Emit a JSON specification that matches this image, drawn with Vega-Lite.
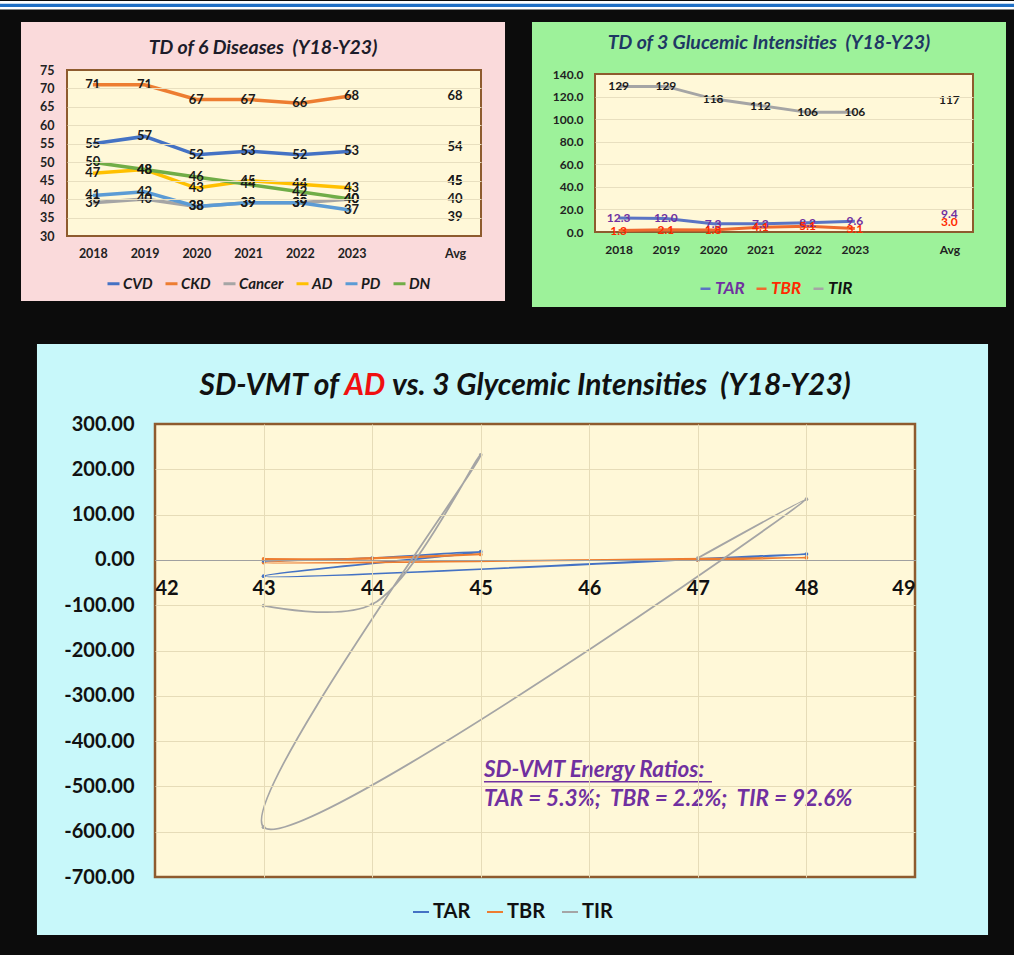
{
  "$schema": "https://vega.github.io/schema/vega-lite/v6.json",
  "background": "#0c0c0c",
  "padding": {"left": 0, "top": 0, "right": 0, "bottom": 21},
  "autosize": {"type": "pad"},
  "datasets": {
    "one": [{}],
    "td6": [
      {"disease": "CVD", "year": "2018", "td": 55}, {"disease": "CVD", "year": "2019", "td": 57}, {"disease": "CVD", "year": "2020", "td": 52},
      {"disease": "CVD", "year": "2021", "td": 53}, {"disease": "CVD", "year": "2022", "td": 52}, {"disease": "CVD", "year": "2023", "td": 53},
      {"disease": "CVD", "year": "Avg", "td": 54},
      {"disease": "CKD", "year": "2018", "td": 71}, {"disease": "CKD", "year": "2019", "td": 71}, {"disease": "CKD", "year": "2020", "td": 67},
      {"disease": "CKD", "year": "2021", "td": 67}, {"disease": "CKD", "year": "2022", "td": 66}, {"disease": "CKD", "year": "2023", "td": 68},
      {"disease": "CKD", "year": "Avg", "td": 68},
      {"disease": "Cancer", "year": "2018", "td": 39}, {"disease": "Cancer", "year": "2019", "td": 40}, {"disease": "Cancer", "year": "2020", "td": 38},
      {"disease": "Cancer", "year": "2021", "td": 39}, {"disease": "Cancer", "year": "2022", "td": 39}, {"disease": "Cancer", "year": "2023", "td": 40},
      {"disease": "Cancer", "year": "Avg", "td": 40},
      {"disease": "AD", "year": "2018", "td": 47}, {"disease": "AD", "year": "2019", "td": 48}, {"disease": "AD", "year": "2020", "td": 43},
      {"disease": "AD", "year": "2021", "td": 45}, {"disease": "AD", "year": "2022", "td": 44}, {"disease": "AD", "year": "2023", "td": 43},
      {"disease": "AD", "year": "Avg", "td": 45},
      {"disease": "PD", "year": "2018", "td": 41}, {"disease": "PD", "year": "2019", "td": 42}, {"disease": "PD", "year": "2020", "td": 38},
      {"disease": "PD", "year": "2021", "td": 39}, {"disease": "PD", "year": "2022", "td": 39}, {"disease": "PD", "year": "2023", "td": 37},
      {"disease": "PD", "year": "Avg", "td": 39},
      {"disease": "DN", "year": "2018", "td": 50}, {"disease": "DN", "year": "2019", "td": 48}, {"disease": "DN", "year": "2020", "td": 46},
      {"disease": "DN", "year": "2021", "td": 44}, {"disease": "DN", "year": "2022", "td": 42}, {"disease": "DN", "year": "2023", "td": 40},
      {"disease": "DN", "year": "Avg", "td": 45}
    ],
    "td3": [
      {"metric": "TAR", "year": "2018", "td": 12.3}, {"metric": "TAR", "year": "2019", "td": 12.0}, {"metric": "TAR", "year": "2020", "td": 7.3},
      {"metric": "TAR", "year": "2021", "td": 7.3}, {"metric": "TAR", "year": "2022", "td": 8.2}, {"metric": "TAR", "year": "2023", "td": 9.6},
      {"metric": "TAR", "year": "Avg", "td": 9.4},
      {"metric": "TBR", "year": "2018", "td": 1.3}, {"metric": "TBR", "year": "2019", "td": 2.1}, {"metric": "TBR", "year": "2020", "td": 1.8},
      {"metric": "TBR", "year": "2021", "td": 4.1}, {"metric": "TBR", "year": "2022", "td": 5.1}, {"metric": "TBR", "year": "2023", "td": 3.1},
      {"metric": "TBR", "year": "Avg", "td": 3.0},
      {"metric": "TIR", "year": "2018", "td": 129}, {"metric": "TIR", "year": "2019", "td": 129}, {"metric": "TIR", "year": "2020", "td": 118},
      {"metric": "TIR", "year": "2021", "td": 112}, {"metric": "TIR", "year": "2022", "td": 106}, {"metric": "TIR", "year": "2023", "td": 106},
      {"metric": "TIR", "year": "Avg", "td": 117}
    ],
    "sd": [
      {"metric": "TAR", "year": 2018, "ad": 47, "sdvmt": 0}, {"metric": "TAR", "year": 2019, "ad": 48, "sdvmt": 13},
      {"metric": "TAR", "year": 2020, "ad": 43, "sdvmt": -36}, {"metric": "TAR", "year": 2021, "ad": 45, "sdvmt": 18},
      {"metric": "TAR", "year": 2022, "ad": 44, "sdvmt": 4}, {"metric": "TAR", "year": 2023, "ad": 43, "sdvmt": -2},
      {"metric": "TBR", "year": 2018, "ad": 47, "sdvmt": 0}, {"metric": "TBR", "year": 2019, "ad": 48, "sdvmt": 5},
      {"metric": "TBR", "year": 2020, "ad": 43, "sdvmt": -6}, {"metric": "TBR", "year": 2021, "ad": 45, "sdvmt": 12},
      {"metric": "TBR", "year": 2022, "ad": 44, "sdvmt": 3}, {"metric": "TBR", "year": 2023, "ad": 43, "sdvmt": 2},
      {"metric": "TIR", "year": 2018, "ad": 47, "sdvmt": 4}, {"metric": "TIR", "year": 2019, "ad": 48, "sdvmt": 134},
      {"metric": "TIR", "year": 2020, "ad": 43, "sdvmt": -590}, {"metric": "TIR", "year": 2021, "ad": 45, "sdvmt": 232},
      {"metric": "TIR", "year": 2022, "ad": 44, "sdvmt": -98}, {"metric": "TIR", "year": 2023, "ad": 43, "sdvmt": -101}
    ]
  },
  "config": {
    "font": "Lato",
    "view": {"stroke": null},
    "axis": {"labelFont": "Lato"},
    "legend": {"labelFont": "Lato"}
  },
  "spacing": 354,
  "bounds": "flush",
  "resolve": {"scale": {"color": "independent"}, "legend": {"color": "independent"}},
  "vconcat": [
    {
      "spacing": 114,
      "bounds": "flush",
      "center": true,
      "resolve": {"scale": {"color": "independent"}, "legend": {"color": "independent"}},
      "hconcat": [
        {
          "width": 414,
          "height": 166,
          "resolve": {"scale": {"x": "independent", "y": "independent"}},
          "layer": [
            {
              "data": {"name": "one"},
              "layer": [
                {
                  "mark": {"type": "rect", "fill": "#FFFFFF"},
                  "encoding": {
                    "x": {"datum": -0.1618, "type": "quantitative", "scale": {"domain": [0, 1], "nice": false, "zero": false}, "axis": null},
                    "x2": {"datum": 2.2874},
                    "y": {"datum": 1.3646, "type": "quantitative", "scale": {"domain": [0, 1], "nice": false, "zero": false}, "axis": null},
                    "y2": {"datum": 1.4157}
                  }
                },
                {
                  "mark": {"type": "rect", "fill": "#1F6FC5"},
                  "encoding": {
                    "x": {"datum": -0.1618, "type": "quantitative"}, "x2": {"datum": 2.2874},
                    "y": {"datum": 1.3795, "type": "quantitative"}, "y2": {"datum": 1.3994}
                  }
                },
                {
                  "mark": {"type": "rect", "fill": "#FADADB"},
                  "encoding": {
                    "x": {"datum": -0.1111, "type": "quantitative"}, "x2": {"datum": 1.058},
                    "y": {"datum": -0.3916, "type": "quantitative"}, "y2": {"datum": 1.2892}
                  }
                },
                {
                  "mark": {"type": "rect", "fill": "#FFF8D8", "stroke": "#8E5B2E", "strokeWidth": 2},
                  "encoding": {
                    "x": {"datum": 0, "type": "quantitative"}, "x2": {"datum": 1},
                    "y": {"datum": 0, "type": "quantitative"}, "y2": {"datum": 1}
                  }
                },
                {
                  "mark": {"type": "text", "text": "TD of 6 Diseases\u00a0 (Y18-Y23)", "align": "center", "baseline": "middle", "fontSize": 19.5, "fontWeight": "bold", "fontStyle": "italic", "color": "#1c1c2a"},
                  "encoding": {"x": {"datum": 0.4734, "type": "quantitative"}, "y": {"datum": 1.1325, "type": "quantitative"}}
                }
              ]
            },
            {
              "data": {"name": "td6"},
              "encoding": {
                "x": {
                  "field": "year", "type": "ordinal",
                  "scale": {"domain": ["2018", "2019", "2020", "2021", "2022", "2023", " ", "Avg"]},
                  "axis": {"orient": "bottom", "zindex": 1, "title": null, "labelAngle": 0, "labelFontSize": 12.5, "labelFontWeight": "bold", "labelColor": "#222222", "labelPadding": 11, "ticks": false, "domain": false, "grid": false}
                },
                "y": {
                  "field": "td", "type": "quantitative",
                  "scale": {"domain": [30, 75], "nice": false, "zero": false},
                  "axis": {"orient": "left", "zindex": 1, "title": null, "values": [30, 35, 40, 45, 50, 55, 60, 65, 70, 75], "labelFontSize": 12.5, "labelFontWeight": "bold", "labelColor": "#222222", "labelPadding": 13, "ticks": false, "domain": false, "grid": true, "gridColor": "#E8DFBF", "gridOpacity": {"condition": {"test": "datum.value == 30 || datum.value == 75", "value": 0}, "value": 1}}
                }
              },
              "layer": [
                {
                  "transform": [{"filter": "datum.year != 'Avg'"}],
                  "mark": {"type": "line", "strokeWidth": 3.5},
                  "encoding": {
                    "color": {
                      "field": "disease", "type": "nominal",
                      "scale": {"domain": ["CVD", "CKD", "Cancer", "AD", "PD", "DN"], "range": ["#4472C4", "#ED7D31", "#A5A5A5", "#FFC000", "#5B9BD5", "#70AD47"]},
                      "legend": {"orient": "none", "legendX": 39, "legendY": 206, "direction": "horizontal", "title": null, "labelFontSize": 15, "labelFontWeight": "bold", "labelFontStyle": "italic", "labelColor": "#1b1b1b", "symbolType": "stroke", "symbolStrokeWidth": 3, "symbolSize": 144, "labelOffset": 2, "columnPadding": 6}
                    }
                  }
                },
                {
                  "transform": [{"filter": "!(datum.disease == 'PD' && datum.year == 'Avg')"}],
                  "mark": {"type": "text", "fontSize": 13, "fontWeight": "bold", "color": "#1a1a1a"},
                  "encoding": {"text": {"field": "td", "type": "quantitative"}}
                },
                {
                  "transform": [{"filter": "datum.disease == 'PD' && datum.year == 'Avg'"}],
                  "mark": {"type": "text", "fontSize": 13, "fontWeight": "bold", "color": "#1a1a1a", "dy": 14},
                  "encoding": {"text": {"field": "td", "type": "quantitative"}}
                }
              ]
            }
          ]
        },
        {
          "width": 378,
          "height": 158,
          "resolve": {"scale": {"x": "independent", "y": "independent"}},
          "layer": [
            {
              "data": {"name": "one"},
              "layer": [
                {
                  "mark": {"type": "rect", "fill": "#9DF29A"},
                  "encoding": {
                    "x": {"datum": -0.1667, "type": "quantitative", "scale": {"domain": [0, 1], "nice": false, "zero": false}, "axis": null},
                    "x2": {"datum": 1.0873},
                    "y": {"datum": -0.4747, "type": "quantitative", "scale": {"domain": [0, 1], "nice": false, "zero": false}, "axis": null},
                    "y2": {"datum": 1.3291}
                  }
                },
                {
                  "mark": {"type": "rect", "fill": "#FFF8D8", "stroke": "#8E5B2E", "strokeWidth": 2},
                  "encoding": {
                    "x": {"datum": 0, "type": "quantitative"}, "x2": {"datum": 1},
                    "y": {"datum": 0, "type": "quantitative"}, "y2": {"datum": 1}
                  }
                },
                {
                  "mark": {"type": "text", "text": "TD of 3 Glucemic Intensities\u00a0 (Y18-Y23)", "align": "center", "baseline": "middle", "fontSize": 19.5, "fontWeight": "bold", "fontStyle": "italic", "color": "#1F3864"},
                  "encoding": {"x": {"datum": 0.4603, "type": "quantitative"}, "y": {"datum": 1.1962, "type": "quantitative"}}
                }
              ]
            },
            {
              "data": {"name": "td3"},
              "encoding": {
                "x": {
                  "field": "year", "type": "ordinal",
                  "scale": {"domain": ["2018", "2019", "2020", "2021", "2022", "2023", " ", "Avg"]},
                  "axis": {"orient": "bottom", "zindex": 1, "title": null, "labelAngle": 0, "labelFontSize": 12, "labelFontWeight": "bold", "labelColor": "#222222", "labelPadding": 12, "ticks": false, "domain": false, "grid": false}
                },
                "y": {
                  "field": "td", "type": "quantitative",
                  "scale": {"domain": [0, 140], "nice": false, "zero": false},
                  "axis": {"orient": "left", "zindex": 1, "title": null, "values": [0, 20, 40, 60, 80, 100, 120, 140], "format": ".1f", "labelFontSize": 12, "labelFontWeight": "bold", "labelColor": "#222222", "labelPadding": 12, "ticks": false, "domain": false, "grid": true, "gridColor": "#E8DFBF", "gridOpacity": {"condition": {"test": "datum.value == 0 || datum.value == 140", "value": 0}, "value": 1}}
                }
              },
              "layer": [
                {
                  "transform": [{"filter": "datum.year != 'Avg'"}],
                  "mark": {"type": "line", "strokeWidth": 3},
                  "encoding": {
                    "color": {
                      "field": "metric", "type": "nominal",
                      "scale": {"domain": ["TAR", "TBR", "TIR"], "range": ["#5A74C4", "#EE6A2E", "#A5A5A5"]},
                      "legend": {
                        "orient": "none", "legendX": 102, "legendY": 206, "direction": "horizontal", "title": null,
                        "labelFontSize": 17, "labelFontWeight": "bold", "labelFontStyle": "italic",
                        "symbolType": "stroke", "symbolStrokeWidth": 2.5, "symbolSize": 100, "labelOffset": 1, "columnPadding": 6,
                        "encode": {"labels": {"update": {"fill": {"signal": "datum.value === 'TAR' ? '#7030A0' : datum.value === 'TBR' ? '#FF2A00' : '#111111'"}}}}
                      }
                    }
                  }
                },
                {
                  "transform": [{"filter": "datum.metric == 'TIR'"}],
                  "mark": {"type": "text", "fontSize": 12, "fontWeight": "bold", "color": "#1a1a1a"},
                  "encoding": {"text": {"field": "td", "type": "quantitative", "format": ".0f"}}
                },
                {
                  "transform": [{"filter": "datum.metric != 'TIR' && datum.year != 'Avg'"}],
                  "mark": {"type": "text", "fontSize": 12, "fontWeight": "bold"},
                  "encoding": {
                    "text": {"field": "td", "type": "quantitative", "format": ".1f"},
                    "color": {"condition": {"test": "datum.metric == 'TAR'", "value": "#7030A0"}, "value": "#FF2A00"}
                  }
                },
                {
                  "transform": [{"filter": "datum.metric != 'TIR' && datum.year == 'Avg'"}],
                  "mark": {"type": "text", "fontSize": 12, "fontWeight": "bold", "dy": -7},
                  "encoding": {
                    "text": {"field": "td", "type": "quantitative", "format": ".1f"},
                    "color": {"condition": {"test": "datum.metric == 'TAR'", "value": "#7030A0"}, "value": "#FF2A00"}
                  }
                }
              ]
            }
          ]
        }
      ]
    },
    {
      "spacing": 0,
      "bounds": "flush",
      "hconcat": [
        {
          "width": 88,
          "height": 10,
          "data": {"name": "one"},
          "mark": {"type": "point", "opacity": 0},
          "encoding": {}
        },
        {
          "width": 760,
          "height": 453,
          "resolve": {"scale": {"x": "independent", "y": "independent"}},
          "layer": [
            {
              "data": {"name": "one"},
              "layer": [
                {
                  "mark": {"type": "rect", "fill": "#C8F8FA"},
                  "encoding": {
                    "x": {"datum": -0.1553, "type": "quantitative", "scale": {"domain": [0, 1], "nice": false, "zero": false}, "axis": null},
                    "x2": {"datum": 1.0961},
                    "y": {"datum": -0.128, "type": "quantitative", "scale": {"domain": [0, 1], "nice": false, "zero": false}, "axis": null},
                    "y2": {"datum": 1.1766}
                  }
                },
                {
                  "mark": {"type": "rect", "fill": "#FFF8D8", "stroke": "#8E5B2E", "strokeWidth": 2.5},
                  "encoding": {
                    "x": {"datum": 0, "type": "quantitative"}, "x2": {"datum": 1},
                    "y": {"datum": 0, "type": "quantitative"}, "y2": {"datum": 1}
                  }
                },
                {
                  "mark": {"type": "text", "text": "SD-VMT of", "align": "right", "baseline": "middle", "fontSize": 30, "fontWeight": "bold", "fontStyle": "italic", "color": "#111111"},
                  "encoding": {"x": {"datum": 0.2421, "type": "quantitative"}, "y": {"datum": 1.0839, "type": "quantitative"}}
                },
                {
                  "mark": {"type": "text", "text": "AD", "align": "center", "baseline": "middle", "fontSize": 30, "fontWeight": "bold", "fontStyle": "italic", "color": "#F01010"},
                  "encoding": {"x": {"datum": 0.2763, "type": "quantitative"}, "y": {"datum": 1.0839, "type": "quantitative"}}
                },
                {
                  "mark": {"type": "text", "text": "vs. 3 Glycemic Intensities\u00a0 (Y18-Y23)", "align": "left", "baseline": "middle", "fontSize": 30, "fontWeight": "bold", "fontStyle": "italic", "color": "#111111"},
                  "encoding": {"x": {"datum": 0.3118, "type": "quantitative"}, "y": {"datum": 1.0839, "type": "quantitative"}}
                }
              ]
            },
            {
              "layer": [
                {
                  "data": {"name": "sd"},
                  "mark": {"type": "line", "interpolate": "catmull-rom", "strokeWidth": 1.8, "point": {"filled": true, "size": 14}},
                  "encoding": {
                    "x": {
                      "field": "ad", "type": "quantitative",
                      "scale": {"domain": [42, 49], "nice": false, "zero": false},
                      "axis": {"orient": "bottom", "zindex": 1, "offset": -317, "title": null, "values": [42, 43, 44, 45, 46, 47, 48, 49], "format": "d", "labelFontSize": 20, "labelFontWeight": "bold", "labelColor": "#111111", "labelPadding": 18, "ticks": false, "domain": true, "domainColor": "#A0A0A0", "domainWidth": 1, "grid": true, "gridColor": "#E6DCB8", "gridOpacity": {"condition": {"test": "datum.value == 42 || datum.value == 49", "value": 0}, "value": 1}}
                    },
                    "y": {
                      "field": "sdvmt", "type": "quantitative",
                      "scale": {"domain": [-700, 300], "nice": false, "zero": false},
                      "axis": {"orient": "left", "zindex": 1, "title": null, "values": [-700, -600, -500, -400, -300, -200, -100, 0, 100, 200, 300], "labelExpr": "replace(format(datum.value, '.2f'), '\u2212', '-')", "labelFontSize": 20, "labelFontWeight": "bold", "labelColor": "#111111", "labelPadding": 21, "ticks": false, "domain": false, "grid": true, "gridColor": "#E6DCB8", "gridOpacity": {"condition": {"test": "datum.value == -700 || datum.value == 300", "value": 0}, "value": 1}}
                    },
                    "order": {"field": "year", "type": "ordinal"},
                    "color": {
                      "field": "metric", "type": "nominal",
                      "scale": {"domain": ["TAR", "TBR", "TIR"], "range": ["#4472C4", "#ED7D31", "#A5A5A5"]},
                      "legend": {"orient": "none", "legendX": 344, "legendY": 478, "direction": "horizontal", "title": null, "labelFontSize": 20, "labelFontWeight": "bold", "labelColor": "#111111", "symbolType": "stroke", "symbolStrokeWidth": 2, "symbolSize": 256, "labelOffset": 2, "columnPadding": 12}
                    }
                  }
                },
                {
                  "data": {"name": "one"},
                  "mark": {"type": "text", "text": "SD-VMT Energy Ratios:", "align": "left", "baseline": "middle", "fontSize": 22.5, "fontWeight": "bold", "fontStyle": "italic", "color": "#7030A0"},
                  "encoding": {"x": {"datum": 45.03, "type": "quantitative"}, "y": {"datum": -464, "type": "quantitative"}}
                },
                {
                  "data": {"name": "one"},
                  "mark": {"type": "rule", "color": "#7030A0", "strokeWidth": 1.5},
                  "encoding": {"x": {"datum": 45.03, "type": "quantitative"}, "x2": {"datum": 47.13}, "y": {"datum": -490, "type": "quantitative"}}
                },
                {
                  "data": {"name": "one"},
                  "mark": {"type": "text", "text": "TAR = 5.3%;\u00a0 TBR = 2.2%;\u00a0 TIR = 92.6%", "align": "left", "baseline": "middle", "fontSize": 22.5, "fontWeight": "bold", "fontStyle": "italic", "color": "#7030A0"},
                  "encoding": {"x": {"datum": 45.03, "type": "quantitative"}, "y": {"datum": -528, "type": "quantitative"}}
                }
              ]
            }
          ]
        }
      ]
    }
  ]
}
